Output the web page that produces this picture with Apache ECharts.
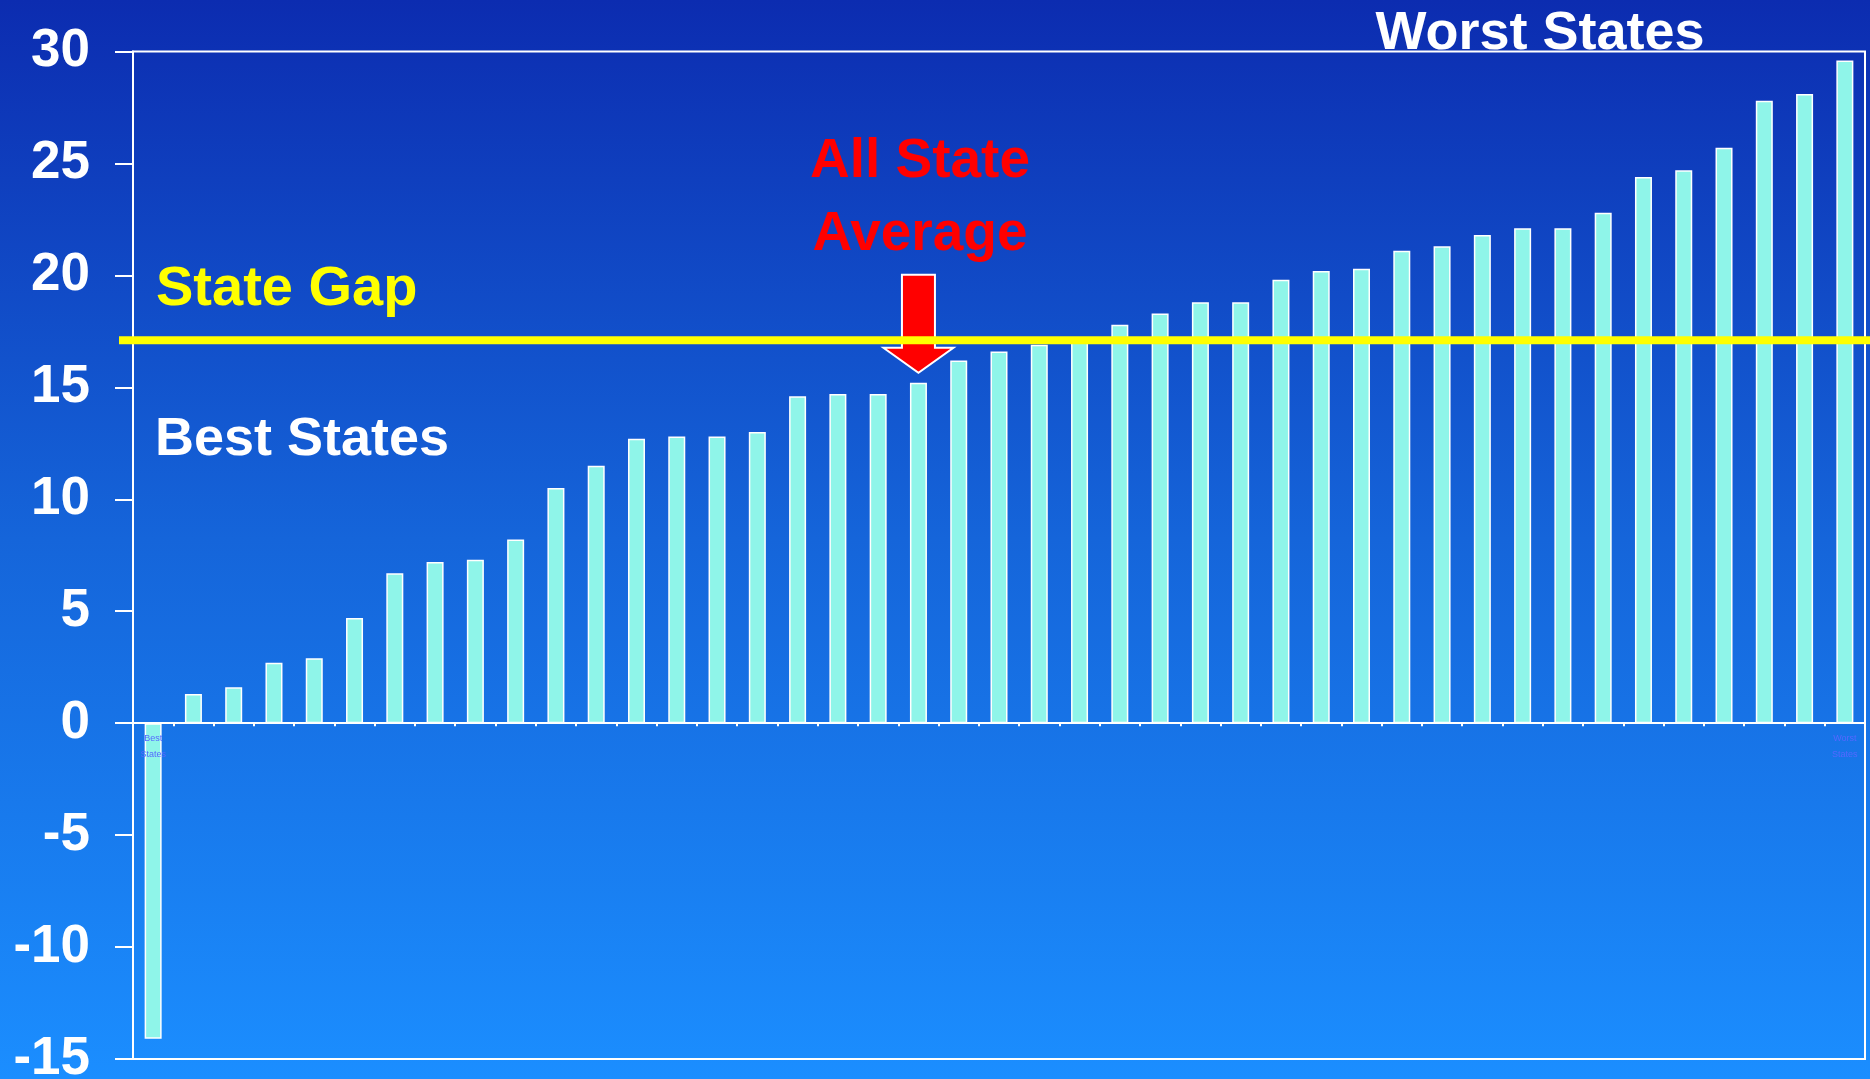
<!DOCTYPE html>
<html><head><meta charset="utf-8">
<script src="https://cdn.jsdelivr.net/npm/echarts@6/dist/echarts.min.js"></script>
<style>html,body{margin:0;padding:0;background:#1460d8;}#c{width:1870px;height:1079px;}</style>
</head><body><div id="c"></div>
<script>
// ---- data ----
const categories = ['1','2','3','4','5','6','7','8','9','10','11','12','13','14','15','16','17','18','19','20','21','22','23','24','25','26','27','28','29','30','31','32','33','34','35','36','37','38','39','40','41','42','43'];
const gapValues = [-14.1, 1.3, 1.6, 2.7, 2.9, 4.7, 6.7, 7.2, 7.3, 8.2, 10.5, 11.5, 12.7, 12.8, 12.8, 13.0, 14.6, 14.7, 14.7, 15.2, 16.2, 16.6, 16.9, 17.1, 17.8, 18.3, 18.8, 18.8, 19.8, 20.2, 20.3, 21.1, 21.3, 21.8, 22.1, 22.1, 22.8, 24.4, 24.7, 25.7, 27.8, 28.1, 29.6];
const firstTickLabel = 'Best\nStates';
const lastTickLabel = 'Worst\nStates';
const yTicks = [-15, -10, -5, 0, 5, 10, 15, 20, 25, 30];
const stateGap = 17.1;
const averageIndex = 19;

const FONT = "'Liberation Sans', Arial, sans-serif";
const chart = echarts.init(document.getElementById('c'), null, {renderer: 'canvas'});

const option = {
  animation: false,
  backgroundColor: new echarts.graphic.LinearGradient(0, 0, 0, 1, [
    {offset: 0, color: '#0c2cb0'},
    {offset: 0.5, color: '#1565da'},
    {offset: 1, color: '#1b8eff'}
  ]),
  grid: {left: 133, right: 5, top: 51.5, bottom: 20, containLabel: false, outerBoundsMode: 'none',
         show: true, borderColor: '#ffffff', borderWidth: 2, backgroundColor: 'transparent'},
  xAxis: {
    type: 'category',
    data: categories,
    axisLine: {onZero: true, lineStyle: {color: '#ffffff', width: 2}},
    axisTick: {show: true, length: 3, lineStyle: {color: '#ffffff', width: 2}},
    axisLabel: {show: false},
    splitLine: {show: false}
  },
  yAxis: {
    type: 'value',
    min: yTicks[0], max: yTicks[yTicks.length - 1], interval: 5,
    axisLine: {show: true, lineStyle: {color: '#ffffff', width: 2}},
    axisTick: {show: true, length: 18, lineStyle: {color: '#ffffff', width: 2}},
    axisLabel: {margin: 43, fontSize: 53, fontWeight: 'bold', color: '#ffffff', fontFamily: FONT},
    splitLine: {show: false}
  },
  series: [{
    type: 'bar',
    data: gapValues,
    barWidth: 17,
    itemStyle: {color: '#8ff5e9', borderColor: '#ffffff', borderWidth: 1.5}
  }]
};
chart.setOption(option);

const zeroY = chart.convertToPixel({yAxisIndex: 0}, 0);
const firstX = chart.convertToPixel({xAxisIndex: 0}, 0);
const lastX = chart.convertToPixel({xAxisIndex: 0}, categories.length - 1);
const lineY = chart.convertToPixel({yAxisIndex: 0}, stateGap);
const ax = chart.convertToPixel({xAxisIndex: 0}, averageIndex);
const tipY = chart.convertToPixel({yAxisIndex: 0}, gapValues[averageIndex]) - 10;
const sw = 16.5, hw = 35;
const arrowPts = [
  [ax - sw, tipY - 98], [ax + sw, tipY - 98], [ax + sw, tipY - 25], [ax + hw, tipY - 25],
  [ax, tipY], [ax - hw, tipY - 25], [ax - sw, tipY - 25]
];

const txt = (t, x, y, color, align, size) => ({
  type: 'text', z: 100, x: x, y: y,
  style: {text: t, fill: color, font: "bold " + (size || 54) + "px " + FONT, textAlign: align, textVerticalAlign: 'middle'}
});
const tiny = (t, x) => ({
  type: 'text', z: 100, x: x, y: zeroY + 7,
  style: {text: t, fill: '#5568ff', font: "9px " + FONT, lineHeight: 16, textAlign: 'center', textVerticalAlign: 'top'}
});

chart.setOption({
  graphic: [
    {type: 'polygon', z: 90, shape: {points: arrowPts}, style: {fill: '#ff0000', stroke: '#ffffff', lineWidth: 2}},
    {type: 'line', z: 95, shape: {x1: 119, y1: lineY, x2: 1870, y2: lineY}, style: {stroke: '#ffff00', lineWidth: 8}},
    tiny(firstTickLabel, firstX),
    tiny(lastTickLabel, lastX),
    txt('State Gap', 156, 290, '#ffff00', 'left', 56),
    txt('Best States', 155, 440, '#ffffff', 'left', 54),
    txt('Worst States', 1540, 34, '#ffffff', 'center', 54),
    txt('All State', 920, 162, '#ff0000', 'center', 55),
    txt('Average', 920, 235, '#ff0000', 'center', 55)
  ]
});
</script>
</body></html>
